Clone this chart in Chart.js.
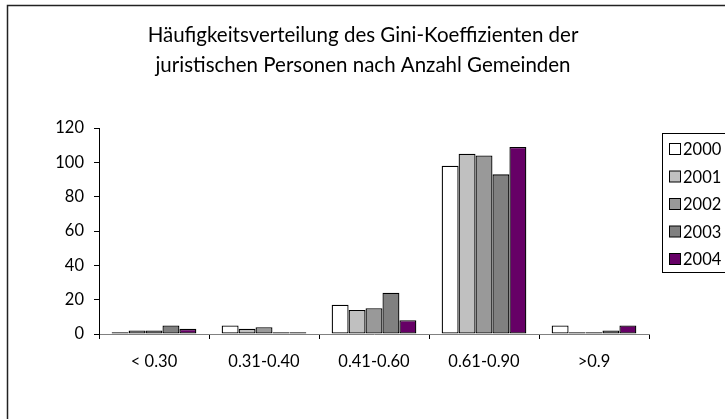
<!DOCTYPE html>
<html>
<head>
<meta charset="utf-8">
<script src="https://cdn.jsdelivr.net/npm/chart.js@4"></script>
<style>
  html, body { margin: 0; padding: 0; background: #fff; }
  #wrap { width: 725px; height: 419px; position: relative; }
</style>
</head>
<body>
<div id="wrap"><canvas id="giniChart" width="725" height="419"></canvas></div>
<script>
// Chart values
const titleLines = [
    'Häufigkeitsverteilung des Gini-Koeffizienten der',
    'juristischen Personen nach Anzahl Gemeinden'
];
const categories = ['< 0.30', '0.31-0.40', '0.41-0.60', '0.61-0.90', '>0.9'];
const years = ['2000', '2001', '2002', '2003', '2004'];
const values2000 = [1, 5, 17, 98, 5];
const values2001 = [2, 3, 14, 105, 1];
const values2002 = [2, 4, 15, 104, 1];
const values2003 = [5, 1, 24, 93, 2];
const values2004 = [3, 1, 8, 109, 5];
const yTicks = [0, 20, 40, 60, 80, 100, 120];

const seriesValues = [values2000, values2001, values2002, values2003, values2004];
const fills = ['#ffffff', '#c0c0c0', '#999999', '#808080', '#660066'];
const FONT = 'Lato, "Open Sans", sans-serif';

// Frame, title and legend are drawn by hand, like the original spreadsheet chart
const decorations = {
    id: 'decorations',
    beforeDraw(chart) {
        const ctx = chart.ctx;
        ctx.save();
        ctx.fillStyle = '#ffffff';
        ctx.fillRect(0, 0, chart.width, chart.height);
        ctx.strokeStyle = '#222222';
        ctx.lineWidth = 1.5;
        ctx.strokeRect(7.5, 5.5, 800, 500);
        ctx.restore();
    },
    afterDraw(chart) {
        const ctx = chart.ctx;
        ctx.save();
        ctx.fillStyle = '#000000';
        ctx.textAlign = 'center';
        ctx.textBaseline = 'middle';
        ctx.font = '20.5px ' + FONT;
        titleLines.forEach((line, i) => ctx.fillText(line, 363, 35 + i * 30));

        // legend box
        const lx = 662, ly = 133, rowH = 27.5;
        ctx.strokeStyle = '#000000';
        ctx.lineWidth = 1;
        ctx.strokeRect(lx + 0.5, ly + 0.5, 80, 139);
        ctx.font = '16.5px ' + FONT;
        ctx.textAlign = 'left';
        chart.data.datasets.forEach((ds, i) => {
            const cy = ly + 16 + i * rowH;
            ctx.fillStyle = ds.backgroundColor;
            ctx.fillRect(lx + 7.5, cy - 5.5, 11, 11);
            ctx.strokeRect(lx + 7.5, cy - 5.5, 11, 11);
            ctx.fillStyle = '#000000';
            ctx.fillText(ds.label, lx + 21, cy + 1);
        });
        ctx.restore();
    }
};

const ctx = document.getElementById('giniChart').getContext('2d');
new Chart(ctx, {
    type: 'bar',
    data: {
        labels: categories,
        datasets: years.map((year, i) => ({
            label: year,
            data: seriesValues[i],
            backgroundColor: fills[i],
            borderColor: '#000000',
            borderWidth: 1.3,
            borderSkipped: false,
            barPercentage: 1.0,
            categoryPercentage: 0.77
        }))
    },
    options: {
        responsive: false,
        animation: false,
        devicePixelRatio: 1,
        layout: { padding: { top: 128, right: 76, bottom: 0, left: 0 } },
        plugins: {
            legend: { display: false },
            title: { display: false },
            tooltip: { enabled: false }
        },
        scales: {
            x: {
                afterFit: (scale) => { scale.height = 85; },
                border: { display: true, color: '#808080', width: 1 },
                grid: {
                    display: true,
                    offset: true,
                    drawOnChartArea: false,
                    drawTicks: true,
                    tickLength: 5,
                    color: '#000000'
                },
                ticks: {
                    color: '#000000',
                    font: { family: FONT, size: 16.5 },
                    padding: 13,
                    maxRotation: 0
                }
            },
            y: {
                min: 0,
                max: 120,
                afterFit: (scale) => { scale.width = 99; },
                afterBuildTicks: (scale) => { scale.ticks = yTicks.map(v => ({ value: v })); },
                border: { display: true, color: '#000000', width: 1 },
                grid: {
                    display: true,
                    drawOnChartArea: false,
                    drawTicks: true,
                    tickLength: 5,
                    color: '#000000'
                },
                ticks: {
                    color: '#000000',
                    font: { family: FONT, size: 16.5 },
                    padding: 10
                }
            }
        }
    },
    plugins: [decorations]
});
</script>
</body>
</html>
